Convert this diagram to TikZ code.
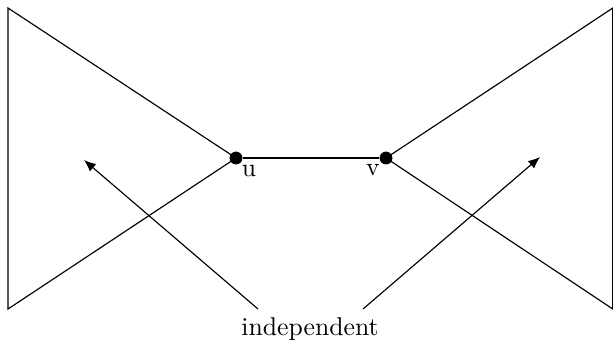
\documentclass[tikz,border=0pt]{standalone}
\usetikzlibrary{arrows.meta}
\begin{document}
\begin{tikzpicture}[x=0.389pt,y=-0.389pt,
  dotnode/.style={circle,fill=black,inner sep=0pt,minimum size=5pt},
  lbl/.style={inner sep=0pt},
  arr/.style={-{Latex[length=4.6pt,width=3.8pt]}},
  every path/.style={line width=0.45pt}]
\useasboundingbox (0,0) rectangle (613,345);
\coordinate (lt) at (8,8);
\coordinate (lb) at (8,309);
\coordinate (rt) at (612.8,8);
\coordinate (rb) at (612.8,309);
\node[dotnode] (u) at (236,158) {};
\node[dotnode] (v) at (386,158) {};
\draw (lt) -- (lb) -- (u.center) -- cycle;
\draw (rt) -- (rb) -- (v.center) -- cycle;
\draw (u) -- (v);
\node[lbl] (ul) at (249,171) {u};
\node[lbl] (vl) at (373,170) {v};
\node[lbl] (ind) at (310,329) {independent};
\coordinate (a1) at (258,309);
\coordinate (a2) at (363,309);
\coordinate (h1) at (84,160);
\coordinate (h2) at (540,157);
\draw[arr] (a1) -- (h1);
\draw[arr] (a2) -- (h2);
\end{tikzpicture}
\end{document}
